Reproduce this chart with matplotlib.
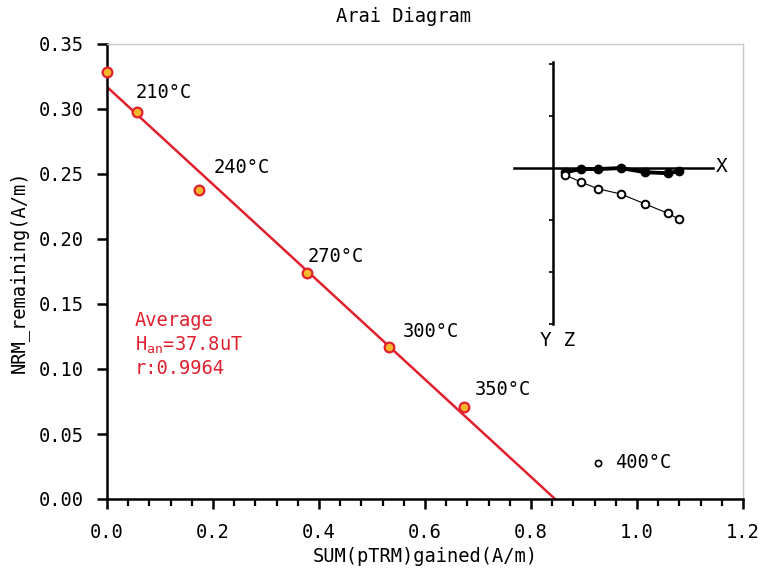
import numpy as np
import matplotlib
matplotlib.use("Agg")
import matplotlib.pyplot as plt
from matplotlib.ticker import MultipleLocator, FormatStrFormatter

# --- DATA ---
ptrm_gained = [0.0, 0.057, 0.174, 0.377, 0.532, 0.674]
nrm_remaining = [0.3285, 0.298, 0.238, 0.174, 0.117, 0.0708]
step_labels = ["", "210°C", "240°C", "270°C", "300°C", "350°C"]

rejected_x = [0.926]
rejected_y = [0.0277]
rejected_label = "400°C"

fit_intercept = 0.317
fit_slope = -0.375

# Zijderveld inset (arbitrary units, 1 unit = one tick)
zij_x = [0.23, 0.54, 0.87, 1.31, 1.77, 2.21, 2.42]
zij_horiz = [-0.08, -0.02, -0.02, 0.0, -0.08, -0.10, -0.06]
zij_vert = [-0.13, -0.27, -0.40, -0.50, -0.69, -0.87, -0.98]

# --- STYLE ---
FONT = "DejaVu Sans Mono"
RED = "#e0202e"
FILL = "#f7b72a"
W, H = 762, 570
# label offsets in pixels (dx right, dy up) from each point
label_offsets = [(0, 0), (-2, 19), (14, 22), (1, 16), (14, 15), (11, 17)]

plt.rcParams["font.family"] = FONT

fig = plt.figure(figsize=(W / 100, H / 100), dpi=100)

def px_box(x0, y0, x1, y1):
    # pixel box (top-left origin) -> figure fraction rect
    return [x0 / W, 1 - y1 / H, (x1 - x0) / W, (y1 - y0) / H]

ax = fig.add_axes(px_box(107, 44, 743, 499))

# fitted line
x_end = -fit_intercept / fit_slope
lx = np.array([0.0, x_end])
ax.plot(lx, fit_intercept + fit_slope * lx, color=RED, lw=1.8, zorder=2)

# data points
ax.plot(ptrm_gained, nrm_remaining, "o", ms=7, mfc=FILL, mec=RED, mew=1.6,
        zorder=3, clip_on=False)
for x, y, t, (dx, dy) in zip(ptrm_gained, nrm_remaining, step_labels, label_offsets):
    if t:
        ax.annotate(t, (x, y), xytext=(dx * 0.72, dy * 0.72),
                    textcoords="offset points", fontsize=13.5,
                    va="center", ha="left")

ax.plot(rejected_x, rejected_y, "o", ms=4.5, mfc="white", mec="black", mew=1.2)
ax.annotate(rejected_label, (rejected_x[0], rejected_y[0]), xytext=(17 * 0.72, 0),
            textcoords="offset points", fontsize=13.5, va="center", ha="left")

# statistics text
ax.text(135 / W, 1 - 320 / H, "Average", transform=fig.transFigure,
        color=RED, fontsize=13.5, va="center")
ax.text(135 / W, 1 - 345 / H, r"H$_{\mathregular{an}}$=37.8uT",
        transform=fig.transFigure, color=RED, fontsize=13.5, va="center")
ax.text(135 / W, 1 - 369 / H, "r:0.9964", transform=fig.transFigure,
        color=RED, fontsize=13.5, va="center")

ax.set_xlim(0, 1.2)
ax.set_ylim(0, 0.35)
ax.xaxis.set_major_locator(MultipleLocator(0.2))
ax.xaxis.set_minor_locator(MultipleLocator(0.04))
ax.yaxis.set_major_locator(MultipleLocator(0.05))
ax.xaxis.set_major_formatter(FormatStrFormatter("%.1f"))
ax.yaxis.set_major_formatter(FormatStrFormatter("%.2f"))
ax.tick_params(axis="both", which="major", direction="out", length=7,
               width=1.8, labelsize=13.5, pad=10)
ax.tick_params(axis="x", which="minor", direction="out", length=5, width=1.6)

for side in ["left", "bottom"]:
    ax.spines[side].set_linewidth(1.8)
for side in ["top", "right"]:
    ax.spines[side].set_color("#c8c8c8")
    ax.spines[side].set_linewidth(1.0)

ax.set_xlabel("SUM(pTRM)gained(A/m)", fontsize=13.5, labelpad=4)
ax.set_ylabel("NRM_remaining(A/m)", fontsize=13.5, labelpad=7)
fig.text(403 / W, 1 - 17 / H, "Arai Diagram", fontsize=13.5,
         ha="center", va="center")

# --- Zijderveld inset ---
zx = fig.add_axes(px_box(514, 62, 713, 324))
zx.set_xlim(-0.75, 3.08)
zx.set_ylim(-3.0, 2.04)
zx.patch.set_alpha(0)
for side in ["top", "right"]:
    zx.spines[side].set_visible(False)
zx.spines["left"].set_position(("data", 0))
zx.spines["bottom"].set_position(("data", 0))
zx.spines["left"].set_linewidth(1.8)
zx.spines["bottom"].set_linewidth(1.8)
zx.set_xticks([])
zx.set_yticks([-3, -2, -1, 1, 2])
zx.set_yticklabels([])
zx.tick_params(axis="y", direction="out", length=3, width=1.2)

zx.plot(zij_x, zij_horiz, "-o", color="black", lw=2.8, ms=6, zorder=3)
zx.plot(zij_x, zij_vert, "-o", color="black", lw=0.8, ms=5.5,
        mfc="white", mew=1.4, zorder=3)

fig.text(716 / W, 1 - 167 / H, "X", fontsize=14, va="center", ha="left")
fig.text(558 / W, 1 - 341 / H, "Y Z", fontsize=14, va="center", ha="center")

fig.savefig("out.png", dpi=100)
